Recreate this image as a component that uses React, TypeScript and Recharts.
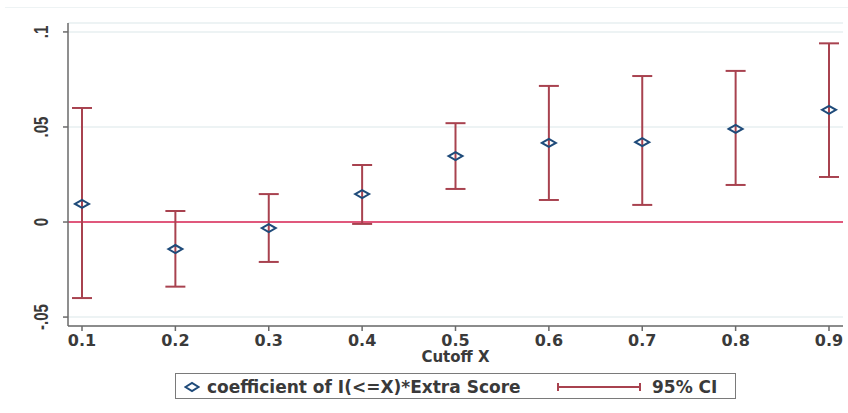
import React from 'react';
import { ComposedChart, Scatter, ErrorBar, XAxis, YAxis, CartesianGrid, ReferenceLine } from 'recharts';

// values
const cutoffs = [0.1, 0.2, 0.3, 0.4, 0.5, 0.6, 0.7, 0.8, 0.9];
const coefs = [0.0095, -0.0142, -0.0032, 0.0147, 0.0347, 0.0416, 0.042, 0.049, 0.059];
const ciLow = [-0.04, -0.034, -0.021, -0.001, 0.0174, 0.0116, 0.009, 0.0195, 0.0237];
const ciHigh = [0.06, 0.0058, 0.0147, 0.03, 0.052, 0.0716, 0.0768, 0.0795, 0.094];
const xTickLabels = ['0.1', '0.2', '0.3', '0.4', '0.5', '0.6', '0.7', '0.8', '0.9'];
const yTicks = [-0.05, 0, 0.05, 0.1];
const yTickLabels = ['-.05', '0', '.05', '.1'];

const navy = '#1f4b7a';
const ciColor = '#a8424f';
const zeroColor = '#e0587c';
const textColor = '#3a3a3a';

const data = cutoffs.map((c, i) => ({
  cutoff: c,
  coef: coefs[i],
  err: [coefs[i] - ciLow[i], ciHigh[i] - coefs[i]],
}));

const Diamond = (props: any) => {
  const { cx, cy } = props;
  if (cx == null || cy == null) return null;
  return (
    <polygon
      points={`${cx - 7},${cy} ${cx},${cy - 4} ${cx + 7},${cy} ${cx},${cy + 4}`}
      fill="none"
      stroke={navy}
      strokeWidth={2}
    />
  );
};

const YTick = (props: any) => {
  const { y, payload } = props;
  const i = yTicks.indexOf(payload.value);
  return (
    <text
      transform={`translate(48, ${y}) scale(1.35, 1) rotate(-90)`}
      textAnchor="middle"
      fontFamily="Liberation Sans, Arial, sans-serif"
      fontWeight="bold"
      fontSize={15}
      fill={textColor}
    >
      {i >= 0 ? yTickLabels[i] : payload.value}
    </text>
  );
};

const XTick = (props: any) => {
  const { x, payload } = props;
  const i = cutoffs.indexOf(payload.value);
  return (
    <text
      x={x}
      y={346}
      textAnchor="middle"
      fontFamily="DejaVu Sans, sans-serif"
      fontWeight="bold"
      fontSize={16}
      fill={textColor}
    >
      {i >= 0 ? xTickLabels[i] : payload.value}
    </text>
  );
};

const legendText: React.CSSProperties = {
  position: 'absolute',
  top: 3,
  fontFamily: 'DejaVu Sans, sans-serif',
  fontWeight: 'bold',
  fontSize: 17,
  lineHeight: '20px',
  color: textColor,
  whiteSpace: 'nowrap',
};

const App: React.FC = () => {
  return (
    <div style={{ position: 'absolute', left: 0, top: 0, width: 848, height: 413, background: '#fff' }}>
      <div style={{ position: 'absolute', left: 5, top: 7, width: 843, height: 1, background: '#eef3f4' }} />
      <ComposedChart width={848} height={413} data={data} margin={{ top: 23, right: 5, bottom: 57, left: 8 }}>
        <CartesianGrid vertical={false} stroke="#e7eff1" strokeWidth={1.5} />
        <XAxis
          dataKey="cutoff"
          type="number"
          domain={[0.085, 0.915]}
          ticks={cutoffs}
          height={30}
          tick={<XTick />}
          tickSize={5}
          stroke="#6a6a6a"
          strokeWidth={1.5}
          allowDataOverflow
          label={{
            value: 'Cutoff X',
            position: 'insideBottom',
            offset: -6,
            fontFamily: 'DejaVu Sans, sans-serif',
            fontWeight: 'bold',
            fontSize: 15,
            fill: textColor,
          }}
        />
        <YAxis
          dataKey="coef"
          type="number"
          domain={[-0.0547, 0.1047]}
          ticks={yTicks}
          width={60}
          tick={<YTick />}
          tickSize={5}
          stroke="#6a6a6a"
          strokeWidth={1.5}
          allowDataOverflow
        />
        <ReferenceLine y={0} stroke={zeroColor} strokeWidth={2} />
        <Scatter dataKey="coef" shape={<Diamond />} isAnimationActive={false}>
          <ErrorBar dataKey="err" direction="y" width={10} stroke={ciColor} strokeWidth={2} />
        </Scatter>
      </ComposedChart>
      <div
        style={{
          position: 'absolute',
          left: 175,
          top: 373,
          width: 559,
          height: 24,
          border: '1.5px solid #7a7a7a',
          background: '#fff',
        }}
      >
        <svg style={{ position: 'absolute', left: 8, top: 7 }} width={16} height={12}>
          <polygon points="1.5,6 8,2 14.5,6 8,10" fill="#fff" stroke={navy} strokeWidth={2} />
        </svg>
        <span style={{ ...legendText, left: 31 }}>coefficient of I(&lt;=X)*Extra Score</span>
        <svg style={{ position: 'absolute', left: 380, top: 6 }} width={86} height={14}>
          <line x1={2} y1={7} x2={84} y2={7} stroke={ciColor} strokeWidth={2} />
          <line x1={2} y1={3} x2={2} y2={11} stroke={ciColor} strokeWidth={2} />
          <line x1={84} y1={3} x2={84} y2={11} stroke={ciColor} strokeWidth={2} />
        </svg>
        <span style={{ ...legendText, left: 476 }}>95% CI</span>
      </div>
    </div>
  );
};

export default App;
